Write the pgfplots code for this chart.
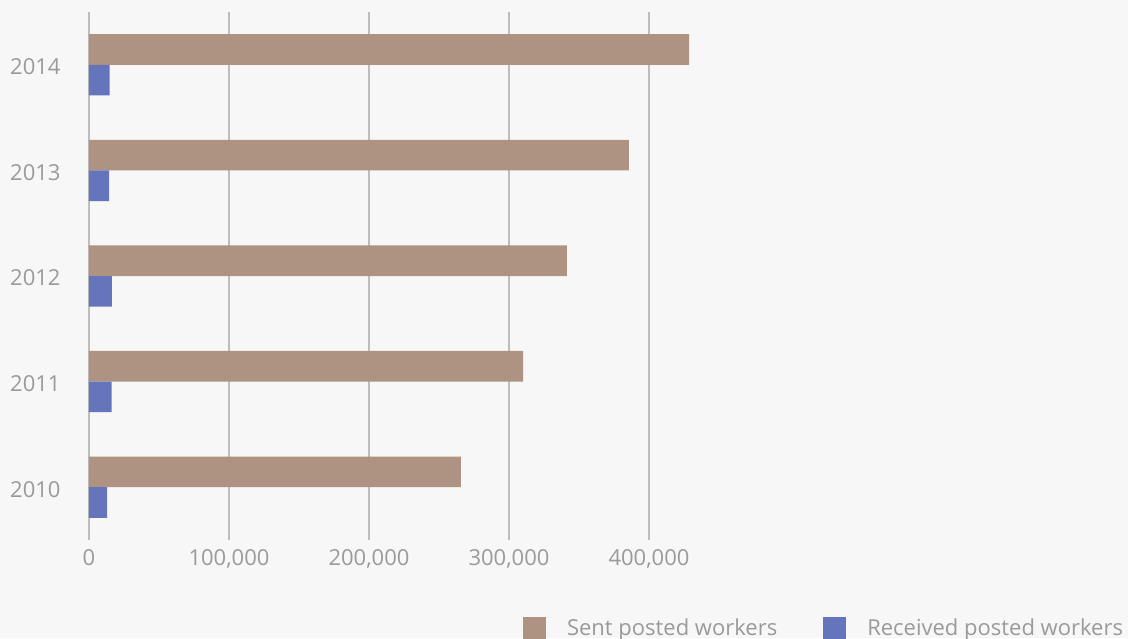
\documentclass[border=0pt]{standalone}
\usepackage{fontspec}
\setmainfont{Open Sans}
\usepackage{pgfplots}
\pgfplotsset{compat=1.18}
\definecolor{bg}{HTML}{F7F7F7}
\definecolor{sent}{HTML}{AE9282}
\definecolor{recv}{HTML}{6575BB}
\definecolor{txt}{HTML}{9A9A9A}
\definecolor{gridc}{HTML}{BDBDBD}
\begin{document}
\begin{tikzpicture}[x=1pt,y=1pt]
\clip (0,0) rectangle (1128,638);
\fill[bg] (0,0) rectangle (1128,638);
\begin{axis}[
  at={(89pt,98pt)}, anchor=south west,
  scale only axis, width=630pt, height=528pt,
  xmin=0, xmax=450000, ymin=-0.5, ymax=4.5,
  xbar, bar width=0.29,
  axis line style={draw=none},
  tick style={draw=none},
  xmajorgrids, major grid style={gridc, line width=1.2pt},
  xtick={0,100000,200000,300000,400000},
  xticklabels={0,{100,000},{200,000},{300,000},{400,000}},
  scaled x ticks=false,
  xticklabel style={inner sep=0pt, yshift=-9pt},
  ytick={0,1,2,3,4},
  yticklabels={2010,2011,2012,2013,2014},
  yticklabel style={inner sep=0pt, xshift=-24pt, yshift=-2pt},
  ticklabel style={font=\fontsize{22}{26}\selectfont, text=txt},
  legend columns=2,
  legend style={at={(0.6889,-0.1894)}, anchor=south west, draw=none, fill=none,
    inner sep=0pt, outer sep=0pt, font=\fontsize{22}{26}\selectfont, text=txt,
    nodes={inner sep=0pt},
    /tikz/every odd column/.append style={column sep=21pt},
    /tikz/every even column/.append style={column sep=46pt}},
  legend image code/.code={\fill[#1] (0pt,-12pt) rectangle (23pt,11pt);},
]
\addplot[fill=sent, draw=none, bar shift=0.145] coordinates {
  (265700,0) (310000,1) (341400,2) (385700,3) (428600,4)};
\addlegendentry{Sent posted workers}
\addplot[fill=recv, draw=none, bar shift=-0.145] coordinates {
  (12900,0) (16200,1) (16400,2) (14300,3) (14800,4)};
\addlegendentry{Received posted workers}
\end{axis}
\end{tikzpicture}
\end{document}
